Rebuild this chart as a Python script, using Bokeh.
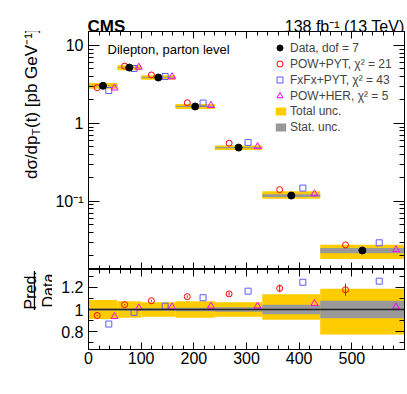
import numpy as np
from math import pi
from bokeh.plotting import figure
from bokeh.models import (Range1d, LinearAxis, LogAxis, FixedTicker, SingleIntervalTicker,
                          CustomJSTickFormatter, Label, Legend, LegendItem, Span, BoxAnnotation)
from bokeh.layouts import column, row
from bokeh.embed import file_html
from bokeh.resources import INLINE

# ---------------- data ----------------
bin_edges = [0, 55, 100, 165, 240, 330, 440, 600]
data_xsec = [3.04, 5.20, 3.88, 1.65, 0.49, 0.119, 0.0235]       # pb/GeV
tot_unc_up = [0.085, 0.075, 0.066, 0.075, 0.065, 0.137, 0.187]  # relative
tot_unc_dn = [0.085, 0.075, 0.066, 0.075, 0.065, 0.093, 0.224]
stat_unc = [0.010, 0.010, 0.012, 0.015, 0.020, 0.042, 0.078]
ratio_powpyt = [0.946, 1.044, 1.079, 1.116, 1.140, 1.190, 1.178]
err_powpyt = [0.006, 0.006, 0.008, 0.010, 0.015, 0.035, 0.055]
ratio_fxfx = [0.869, 0.974, 1.030, 1.106, 1.165, 1.245, 1.255]
ratio_powher = [0.937, 1.014, 1.023, 1.030, 1.030, 1.054, 1.023]
legend_labels = ["Data, dof = 7", "POW+PYT, \u03c7\u00b2 = 21", "FxFx+PYT, \u03c7\u00b2 = 43",
                 "POW+HER, \u03c7\u00b2 = 5", "Total unc.", "Stat. unc."]

FONT = "Liberation Sans"
YELLOW = "#ffcc00"
GREY = "#999999"
RED = "#ff0000"
BLUE = "#5c5cff"
MAG = "#ff00ff"

edges = np.array(bin_edges, dtype=float)
lo, hi = edges[:-1], edges[1:]
cen = 0.5 * (lo + hi)
wid = hi - lo
d = np.array(data_xsec)
up = np.array(tot_unc_up)
dn = np.array(tot_unc_dn)
st = np.array(stat_unc)
r_pp = np.array(ratio_powpyt)
r_fx = np.array(ratio_fxfx)
r_ph = np.array(ratio_powher)
e_pp = np.array(err_powpyt)
x_pp = cen - 0.2 * wid
x_fx = cen + 0.2 * wid
x_ph = cen + 0.4 * wid

TOTAL_W = 406
LEFT_W = 52          # strip holding the y titles
MAIN_W = TOTAL_W - LEFT_W
LB = 87 - LEFT_W     # so that the frames start at x = 87
RB = 2
HEAD_H = 31
TOP_H = 238
BOT_H = 102
XT_H = 394 - HEAD_H - TOP_H - BOT_H
xr = Range1d(0, 600)

EMPTY = CustomJSTickFormatter(code='return "";')


def style_axis(ax, maj, mino, show_labels=True, size="16px"):
    ax.axis_line_color = "black"
    ax.major_tick_line_color = "black"
    ax.minor_tick_line_color = "black"
    ax.major_tick_in = maj
    ax.major_tick_out = 0
    ax.minor_tick_in = mino
    ax.minor_tick_out = 0
    ax.axis_label = None
    ax.major_label_text_font = FONT
    ax.major_label_text_color = "black"
    if show_labels:
        ax.major_label_text_font_size = size
        ax.major_label_standoff = 5
    else:
        ax.formatter = EMPTY
        ax.major_label_text_font_size = "1px"
        ax.major_label_standoff = 0


def lab(fig, text, x, y, size, align="left", angle=0, bold=False):
    # inside the frame: x, y are pixels from the frame's bottom-left corner
    fig.add_layout(Label(x=x, y=y, x_units="screen", y_units="screen", text=text,
                         text_font=FONT, text_font_size=size, text_align=align,
                         text_baseline="alphabetic", angle=angle,
                         text_font_style="bold" if bold else "normal",
                         text_color="black"))


def clab(fig, side, text, x, y, size, align="left", angle=0, bold=False):
    # unclipped text kept in a side panel: x, y are pixels from the canvas top-left
    fig.add_layout(Label(x=x, y=y, x_units="canvas", y_units="canvas", text=text,
                         text_font=FONT, text_font_size=size, text_align=align,
                         text_baseline="alphabetic", angle=angle,
                         text_font_style="bold" if bold else "normal",
                         text_color="black"), side)


def text_fig(w, h):
    f = figure(width=w, height=h, x_range=Range1d(0, w), y_range=Range1d(0, h),
               x_axis_location=None, y_axis_location=None, output_backend="svg",
               toolbar_location=None, min_border=0, title=None)
    f.outline_line_color = None
    f.grid.visible = False
    f.background_fill_color = "white"
    f.border_fill_color = "white"
    return f


# ---------------- header (CMS / lumi) ----------------
head = text_fig(TOTAL_W, HEAD_H)
clab(head, "left", "CMS", 87, 26, "17px", bold=True)
clab(head, "left", "138 fb\u207b\u00b9 (13 TeV)", 404, 26, "16px", align="right")

# ---------------- top panel ----------------
top = figure(width=MAIN_W, height=TOP_H, x_range=xr, y_range=Range1d(0.0134, 15.1),
             y_axis_type="log", output_backend="svg", toolbar_location=None,
             min_border_left=LB, min_border_right=RB, min_border_top=0, min_border_bottom=0)
top.xgrid.visible = False
top.ygrid.visible = False
top.outline_line_color = "black"
top.background_fill_color = "white"
top.border_fill_color = "white"

log_minor = [k * 10.0 ** e for e in range(-2, 2) for k in range(2, 10)]
log_ticker = FixedTicker(ticks=[0.1, 1, 10], minor_ticks=log_minor)
x_ticker = SingleIntervalTicker(interval=100, num_minor_ticks=5)

yl = top.yaxis[0]
yl.ticker = log_ticker
yl.formatter = CustomJSTickFormatter(code="""
if (tick > 5) return "10"; if (tick > 0.5) return "1"; return "10\u207b\u00b9";""")
style_axis(yl, 11, 5, True, "16px")
yr = LogAxis(ticker=log_ticker)
style_axis(yr, 11, 5, False)
top.add_layout(yr, "right")
xb = top.xaxis[0]
xb.ticker = x_ticker
style_axis(xb, 7, 4, False)
xa = LinearAxis(ticker=x_ticker)
style_axis(xa, 7, 4, False)
top.add_layout(xa, "above")

r_tot = top.quad(left=lo, right=hi, bottom=d * (1 - dn), top=d * (1 + up),
                 fill_color=YELLOW, line_color=None)
r_st = top.quad(left=lo, right=hi, bottom=d * (1 - st), top=d * (1 + st),
                fill_color=GREY, line_color=None)
r_pp_t = top.scatter(x_pp, d * r_pp, marker="circle", size=6, fill_color=None,
                     line_color=RED, line_width=1)
r_fx_t = top.scatter(x_fx, d * r_fx, marker="square", size=6, fill_color=None,
                     line_color=BLUE, line_width=1)
r_ph_t = top.scatter(x_ph, d * r_ph, marker="triangle", size=7, fill_color=None,
                     line_color=MAG, line_width=1)
r_dat = top.scatter(cen, d, marker="circle", size=7, fill_color="black", line_color="black")

leg1 = Legend(items=[LegendItem(label=legend_labels[0], renderers=[r_dat]),
                     LegendItem(label=legend_labels[1], renderers=[r_pp_t]),
                     LegendItem(label=legend_labels[2], renderers=[r_fx_t]),
                     LegendItem(label=legend_labels[3], renderers=[r_ph_t])],
              location=(184, 166), glyph_width=15, glyph_height=15, label_height=15,
              spacing=1, padding=0, margin=0, label_standoff=3,
              label_text_font=FONT, label_text_font_size="12px",
              border_line_color=None, background_fill_alpha=0)
leg2 = Legend(items=[LegendItem(label=legend_labels[4], renderers=[r_tot]),
                     LegendItem(label=legend_labels[5], renderers=[r_st])],
              location=(186, 135), glyph_width=13, glyph_height=10, label_height=10,
              spacing=2, padding=0, margin=0, label_standoff=3,
              label_text_font=FONT, label_text_font_size="12px",
              border_line_color=None, background_fill_alpha=0)
top.add_layout(leg1)
top.add_layout(leg2)
lab(top, "Dilepton, parton level", 19, 220, "13px")

# ---------------- ratio panel ----------------
bot = figure(width=MAIN_W, height=BOT_H, x_range=xr, y_range=Range1d(0.64, 1.36),
             output_backend="svg", toolbar_location=None, min_border_left=LB,
             min_border_right=RB, min_border_top=0, min_border_bottom=22)
bot.xgrid.visible = False
bot.ygrid.visible = False
bot.outline_line_color = "black"
bot.background_fill_color = "white"
bot.border_fill_color = "white"

r_ticker = SingleIntervalTicker(interval=0.2, num_minor_ticks=2)
ryl = bot.yaxis[0]
ryl.ticker = r_ticker
ryl.formatter = CustomJSTickFormatter(code="""
if (Math.abs(tick - 1) < 1e-6) return "1"; return tick.toFixed(1);""")
style_axis(ryl, 9, 5, True, "16px")
ryr = LinearAxis(ticker=r_ticker)
style_axis(ryr, 9, 5, False)
bot.add_layout(ryr, "right")
rxb = bot.xaxis[0]
rxb.ticker = x_ticker
rxb.formatter = CustomJSTickFormatter(code="""
if (tick > 550) return ""; return tick.toFixed(0);""")
style_axis(rxb, 7, 4, True, "16px")
rxb.major_label_standoff = 2
rxa = LinearAxis(ticker=x_ticker)
style_axis(rxa, 7, 4, False)
bot.add_layout(rxa, "above")

bot.quad(left=lo, right=hi, bottom=1 - dn, top=1 + up, fill_color=YELLOW, line_color=None)
bot.quad(left=lo, right=hi, bottom=1 - st, top=1 + st, fill_color=GREY, line_color=None)
bot.add_layout(Span(location=1, dimension="width", line_color="#222222", line_width=1.5))
bot.segment(x0=x_pp, x1=x_pp, y0=r_pp - e_pp, y1=r_pp + e_pp, line_color=RED, line_width=1)
bot.scatter(x_pp, r_pp, marker="circle", size=6, fill_color=None, line_color=RED, line_width=1)
bot.scatter(x_fx, r_fx, marker="square", size=6, fill_color=None, line_color=BLUE, line_width=1)
bot.scatter(x_ph, r_ph, marker="triangle", size=7, fill_color=None, line_color=MAG, line_width=1)

# ---------------- left strip with the y titles ----------------
MID_H = TOP_H + BOT_H
left = text_fig(LEFT_W, MID_H)
C0 = HEAD_H          # page y of the strip's top edge
clab(left, "above", "d\u03c3/dp", 31, 135 - C0, "17px", align="right", angle=pi / 2)
clab(left, "below", "T", 35, 135 - C0, "11.5px", align="left", angle=pi / 2)
clab(left, "above", "(t) [pb GeV\u207b\u00b9]", 31, 127.5 - C0, "17px", align="left", angle=pi / 2)
clab(left, "above", "Pred.", 30, 309 - C0, "16px", align="left", angle=pi / 2)
clab(left, "below", "Data", 47.5, 307 - C0, "16px", align="left", angle=pi / 2)
# fraction bar between "Pred." and "Data"
left.add_layout(BoxAnnotation(left=33.3, right=34.6, top=270.5 - C0, bottom=309.5 - C0,
                              left_units="canvas", right_units="canvas",
                              top_units="canvas", bottom_units="canvas",
                              fill_color="black", fill_alpha=1, line_color=None))

# ---------------- x title ----------------
xt = text_fig(TOTAL_W, XT_H)
lab(xt, "(t) [GeV]", 404, 394 - 379, "17px", align="right")
lab(xt, "T", 339.8, 394 - 384, "11.5px", align="right")
lab(xt, "p", 332.8, 394 - 379, "17px", align="right")

layout = column(head, row(left, column(top, bot, spacing=0), spacing=0), xt, spacing=0)
open("out.html", "w").write(file_html(layout, INLINE))
